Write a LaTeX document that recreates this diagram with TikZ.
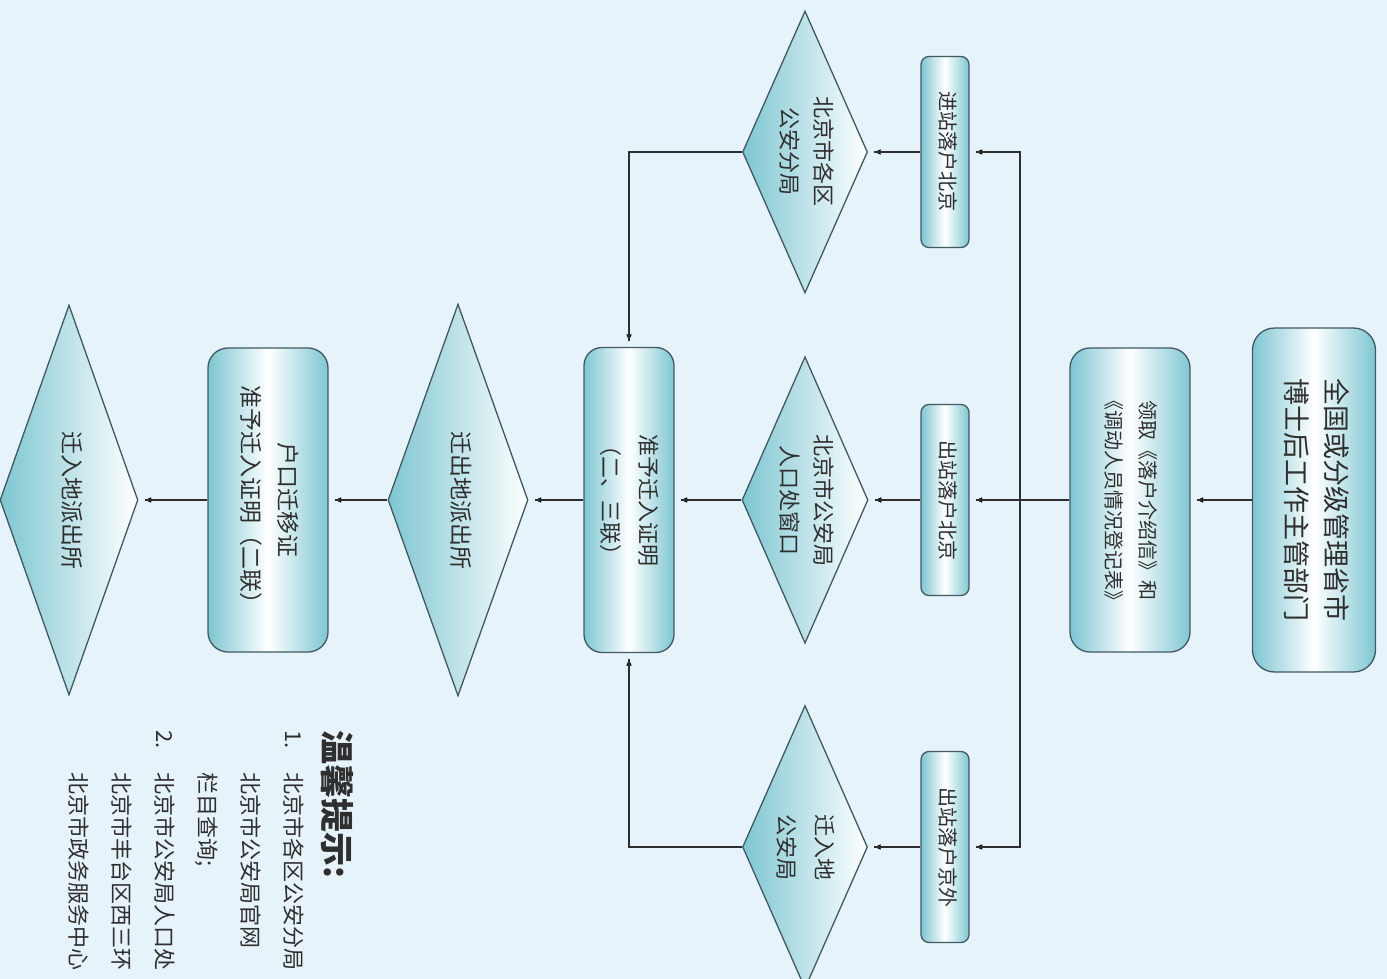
\documentclass[tikz,border=0pt]{standalone}
\usepackage{fontspec}
\newfontfamily\cjk{Noto Sans CJK SC}
\usetikzlibrary{positioning, calc, shapes.geometric, arrows.meta, decorations.markings}
\definecolor{bgblue}{HTML}{E7F3FA}
\definecolor{boxteal}{HTML}{7EC6D1}
\definecolor{edgegray}{HTML}{415963}
\definecolor{linegray}{HTML}{2E2E2E}
\definecolor{textgray}{HTML}{2F2F2F}
\tikzstyle{Arrow} = [
%Connector with a small tip just short of the target:
line width=1.3pt, draw=linegray,
decoration={
markings,
mark=at position -4pt with {
\arrow{Latex[length=9pt,width=7pt]}
}
},
shorten >= 6pt, preaction = {decorate}
]
\newcommand{\rotlabel}[1]{\rotatebox{-90}{\begin{tabular}{@{}c@{}}#1\end{tabular}}}

\begin{document}
\begin{tikzpicture}[x=1pt, y=-1pt,
			office/.style = {rectangle, rounded corners=20pt, draw=edgegray, line width=1.3pt, left color=boxteal, right color=boxteal, middle color=white, inner sep=0pt, text=textgray},
			station/.style = {office, rounded corners=8pt, minimum width=48pt, minimum height=191pt, font=\cjk\fontsize{20}{24}\selectfont},
			bureau/.style = {diamond, draw=edgegray, line width=1.3pt, left color=boxteal, right color=white, inner sep=0pt, text=textgray},
		]
		\useasboundingbox (0,0) rectangle (1387,979);
		\clip (0,0) rectangle (1387,979);
		\fill[bgblue] (0,0) rectangle (1387,979);

		\node[office, rounded corners=22pt, minimum width=123pt, minimum height=344pt, font=\cjk\fontsize{27}{40}\selectfont](DEPT) at (1314,500){\rotlabel{全国或分级管理省市\\博士后工作主管部门}};
		\node[office, minimum width=120pt, minimum height=304pt, font=\cjk\fontsize{20}{34}\selectfont](FORM) at (1130,500){\rotlabel{领取《落户介绍信》和\\《调动人员情况登记表》}};

		\node[station](JZ) at (945,152){\rotlabel{进站落户北京}};
		\node[station](CZ) at (945,500){\rotlabel{出站落户北京}};
		\node[station](CW) at (945,847){\rotlabel{出站落户京外}};

		\node[bureau, aspect=0.44, minimum width=125pt, minimum height=282pt, font=\cjk\fontsize{22}{34}\selectfont](FJ) at (805,152){\rotlabel{北京市各区\\公安分局}};
		\node[bureau, aspect=0.44, minimum width=125pt, minimum height=282pt, font=\cjk\fontsize{22}{34}\selectfont](CK) at (805,500){\rotlabel{北京市公安局\\人口处窗口}};
		\node[bureau, aspect=0.44, minimum width=125pt, minimum height=283pt, font=\cjk\fontsize{22}{38}\selectfont](QRJ) at (805,847){\rotlabel{迁入地\\公安局}};

		\node[office, rounded corners=18pt, minimum width=90pt, minimum height=305pt, font=\cjk\fontsize{22}{38}\selectfont](ZY) at (629,500){\rotlabel{准予迁入证明\\（二、三联）}};
		\node[bureau, aspect=0.36, minimum width=140pt, minimum height=392pt, font=\cjk\fontsize{23}{30}\selectfont](QC) at (458,500){\rotlabel{迁出地派出所}};
		\node[office, minimum width=120pt, minimum height=304pt, font=\cjk\fontsize{23}{37}\selectfont](HK) at (268,500){\rotlabel{户口迁移证\\准予迁入证明（二联）}};
		\node[bureau, aspect=0.36, minimum width=138pt, minimum height=390pt, font=\cjk\fontsize{23}{30}\selectfont](QRS) at (69,500){\rotlabel{迁入地派出所}};

		\node[anchor=north east, inner sep=0pt, text=textgray, font=\cjk\fontsize{22}{43}\selectfont](TIP) at (355,730){\rotatebox{-90}{\begin{tabular}{@{}l@{}l@{}}
			\multicolumn{2}{@{}l@{}}{\fontsize{34}{40}\selectfont\bfseries 温馨提示:}\\[-4pt]
			\makebox[42pt][l]{1.} & 北京市各区公安分局\\
			 & 北京市公安局官网\\
			 & 栏目查询;\\
			\makebox[42pt][l]{2.} & 北京市公安局人口处\\
			 & 北京市丰台区西三环\\
			 & 北京市政务服务中心
		\end{tabular}}};

		\coordinate(TRUNK) at (1020,500);
		\draw[Arrow](DEPT)--(FORM);
		\draw[Arrow](FORM)--(CZ);
		\draw[Arrow](TRUNK)|-(JZ);
		\draw[Arrow](TRUNK)|-(CW);
		\draw[Arrow](JZ)--(FJ);
		\draw[Arrow](CZ)--(CK);
		\draw[Arrow](CW)--(QRJ);
		\draw[Arrow](FJ)-|(ZY);
		\draw[Arrow](CK)--(ZY);
		\draw[Arrow](QRJ)-|(ZY);
		\draw[Arrow](ZY)--(QC);
		\draw[Arrow](QC)--(HK);
		\draw[Arrow](HK)--(QRS);

	\end{tikzpicture}
\end{document}
